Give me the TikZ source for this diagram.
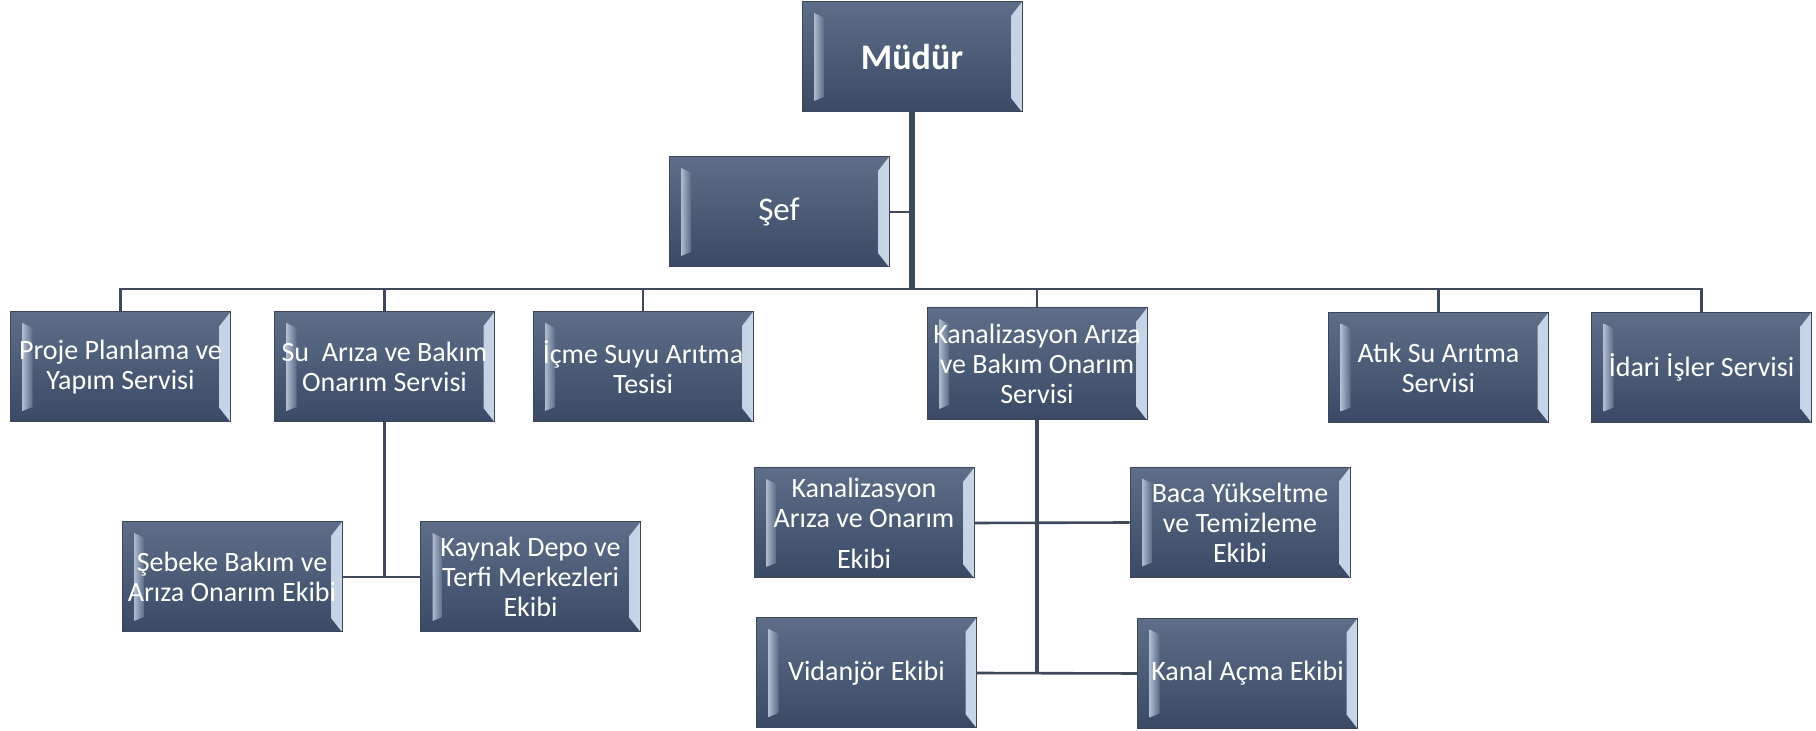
\documentclass[tikz,border=0pt]{standalone}
\usepackage{fontspec}
\setmainfont{Carlito}
\usepackage{xcolor}
\usepackage{tikz}
\definecolor{boxtop}{HTML}{5E6E88}
\definecolor{boxbottom}{HTML}{3A4A66}
\definecolor{boxedge}{HTML}{3C4658}
\definecolor{bevhi}{HTML}{C8D6E8}
\definecolor{bevlo}{HTML}{7E90AA}
\definecolor{linecol}{HTML}{3E4A5C}
\tikzstyle{unit} = [rectangle, minimum width=110pt, minimum height=55pt, inner sep=0pt, align=center, text=white, font=\fontsize{14}{15}\selectfont, draw=boxedge, line width=0.5pt, top color=boxtop, bottom color=boxbottom,
  path picture={
    \shade[left color=bevlo, right color=bevhi]
      (path picture bounding box.north east) -- (path picture bounding box.south east)
      -- ([shift={(-5.5pt,7pt)}]path picture bounding box.south east)
      -- ([shift={(-5.5pt,-7pt)}]path picture bounding box.north east) -- cycle;
    \shade[left color=bevhi!75!boxtop, right color=boxtop!90!boxbottom]
      ([shift={(6pt,-5.5pt)}]path picture bounding box.north west)
      -- ([shift={(6pt,5.5pt)}]path picture bounding box.south west)
      -- ([shift={(11pt,7.5pt)}]path picture bounding box.south west)
      -- ([shift={(11pt,-8pt)}]path picture bounding box.north west) -- cycle;
  }]
\tikzstyle{head} = [unit, font=\bfseries\fontsize{18}{20}\selectfont]
\tikzstyle{chief} = [unit, font=\fontsize{16.5}{18}\selectfont]
\tikzstyle{trunk} = [draw=linecol, line width=2.8pt]
\tikzstyle{subtrunk} = [draw=linecol, line width=2pt]
\tikzstyle{branch} = [draw=linecol, line width=1.3pt]

\begin{document}
\begin{tikzpicture}[x=0.5pt, y=-0.5pt]

    \useasboundingbox (0,0) rectangle (1816,731);

    % Top
    \node (mudur) [head] at (912,57) {Müdür};
    \node (sef) [chief] at (779,212) {Şef};
    \coordinate (bus) at (912,289);

    % Services
    \node (proje) [unit] at (120.5,367) {Proje Planlama ve\\Yapım Servisi};
    \node (su) [unit] at (384.5,367) {Su\ \ Arıza ve Bakım\\Onarım Servisi};
    \node (icme) [unit] at (643,367) {İçme Suyu Arıtma\\Tesisi};
    \node (kanal) [unit, minimum height=56pt] at (1037,364) {Kanalizasyon Arıza\\ve Bakım Onarım\\Servisi};
    \node (atik) [unit] at (1438.5,367.5) {Atık Su Arıtma\\Servisi};
    \node (idari) [unit] at (1701.5,367.5) {İdari İşler Servisi};

    % Teams
    \node (sebeke) [unit] at (232,577) {Şebeke Bakım ve\\Arıza Onarım Ekibi};
    \node (kaynak) [unit] at (530.5,577) {Kaynak Depo ve\\Terfi Merkezleri\\Ekibi};
    \node (kae) [unit] at (864,523) {Kanalizasyon\\Arıza ve Onarım\\[5.5pt]Ekibi};
    \node (baca) [unit] at (1240,522.5) {Baca Yükseltme\\ve Temizleme\\Ekibi};
    \node (vidanjor) [unit] at (866.5,673) {Vidanjör Ekibi};
    \node (kanalacma) [unit] at (1247.5,673.5) {Kanal Açma Ekibi};

    % Lines
    \draw [trunk] (mudur.south) -- (mudur.south |- bus);
    \draw [branch] (sef.east) -- (sef.east -| mudur.south);
    \draw [branch] (proje.north) |- (bus) -| (idari.north);
    \draw [branch] (su.north) -- (su.north |- bus);
    \draw [branch] (icme.north) -- (icme.north |- bus);
    \draw [branch] (kanal.north) -- (kanal.north |- bus);
    \draw [branch] (atik.north) -- (atik.north |- bus);
    \draw [branch] (su.south) |- (sebeke.east);
    \draw [branch] (su.south) |- (kaynak.west);
    \draw [subtrunk] (kanal.south) -- (kanal.south |- vidanjor.east);
    \draw [branch] (kae.east) -- (baca.west);
    \draw [branch] (vidanjor.east) -- (kanalacma.west);

\end{tikzpicture}
\end{document}
